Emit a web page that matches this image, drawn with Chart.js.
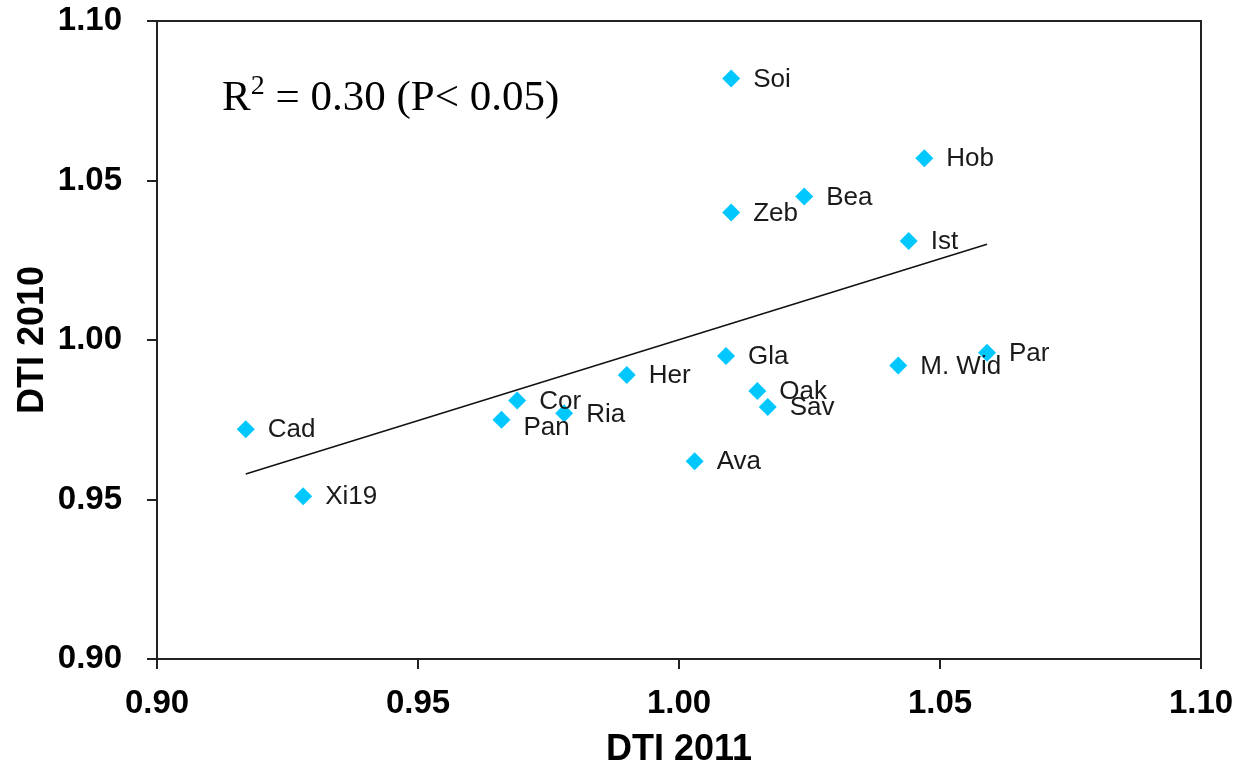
<!DOCTYPE html>
<html>
<head>
<meta charset="utf-8">
<script src="https://cdn.jsdelivr.net/npm/chart.js@4.4.1/dist/chart.umd.min.js"></script>
<style>
  html, body { margin: 0; padding: 0; background: #fff; }
</style>
</head>
<body>
<canvas id="dtiChart" width="1243" height="769"></canvas>
<script>
// site names and DTI values
const sites = ['Soi', 'Hob', 'Bea', 'Zeb', 'Ist', 'Gla', 'M. Wid', 'Par', 'Her', 'Oak',
               'Sav', 'Cor', 'Ria', 'Pan', 'Cad', 'Xi19', 'Ava'];
const dti2011 = [1.010, 1.047, 1.024, 1.010, 1.044, 1.009, 1.042, 1.059, 0.990, 1.015,
                 1.017, 0.969, 0.978, 0.966, 0.917, 0.928, 1.003];
const dti2010 = [1.082, 1.057, 1.045, 1.040, 1.031, 0.995, 0.992, 0.996, 0.989, 0.984,
                 0.979, 0.981, 0.977, 0.975, 0.972, 0.951, 0.962];

// regression line ends
const trendX = [0.917, 1.059];
const trendY = [0.958, 1.030];

const xTicks = [0.90, 0.95, 1.00, 1.05, 1.10];
const yTicks = [0.90, 0.95, 1.00, 1.05, 1.10];

const statText = ' = 0.30 (P< 0.05)';

const sans = "'Liberation Sans', Arial, sans-serif";
const serif = "'Liberation Serif', 'Times New Roman', serif";

// names next to each diamond, the R² note and the box round the plot
const extrasPlugin = {
    id: 'extras',
    afterDatasetsDraw(chart) {
        const {ctx, chartArea, scales} = chart;
        ctx.save();

        // box
        ctx.strokeStyle = '#222';
        ctx.lineWidth = 2;
        ctx.beginPath();
        ctx.moveTo(chartArea.left, chartArea.top);
        ctx.lineTo(chartArea.right, chartArea.top);
        ctx.lineTo(chartArea.right, chartArea.bottom);
        ctx.stroke();

        // labels
        ctx.font = '26px ' + sans;
        ctx.fillStyle = '#1a1a1a';
        ctx.textAlign = 'left';
        ctx.textBaseline = 'middle';
        const shift = { 'Pan': 7 };
        sites.forEach((name, i) => {
            const px = scales.x.getPixelForValue(dti2011[i]);
            const py = scales.y.getPixelForValue(dti2010[i]);
            ctx.fillText(name, px + 22, py + 1 + (shift[name] || 0));
        });

        // R² = ...
        const tx = 222, ty = 110;
        ctx.fillStyle = '#000';
        ctx.textBaseline = 'alphabetic';
        ctx.font = '43px ' + serif;
        ctx.fillText('R', tx, ty);
        let w = ctx.measureText('R').width;
        ctx.font = '28px ' + serif;
        ctx.fillText('2', tx + w, ty - 16);
        w += ctx.measureText('2').width;
        ctx.font = '43px ' + serif;
        ctx.fillText(statText, tx + w, ty);

        ctx.restore();
    }
};

const ctx = document.getElementById('dtiChart').getContext('2d');

const dtiChart = new Chart(ctx, {
    type: 'scatter',
    data: {
        datasets: [{
            label: 'sites',
            data: dti2011.map((v, i) => ({ x: v, y: dti2010[i] })),
            pointStyle: 'rectRot',
            pointRadius: 9,
            pointHoverRadius: 9,
            backgroundColor: 'rgb(0, 200, 255)',
            borderColor: 'rgb(0, 200, 255)',
            borderWidth: 0
        }, {
            label: 'trend',
            type: 'line',
            data: trendX.map((v, i) => ({ x: v, y: trendY[i] })),
            borderColor: '#111',
            borderWidth: 1.5,
            pointRadius: 0,
            fill: false
        }]
    },
    options: {
        responsive: false,
        devicePixelRatio: 1,
        animation: false,
        layout: { padding: { top: 21, right: 42, left: 0, bottom: 0 } },
        plugins: {
            legend: { display: false },
            tooltip: { enabled: false }
        },
        scales: {
            x: {
                type: 'linear',
                min: 0.90,
                max: 1.10,
                afterBuildTicks: (scale) => { scale.ticks = xTicks.map(v => ({ value: v })); },
                afterFit: (scale) => {
                    scale.height = 110;
                    scale.paddingLeft = 0;
                    scale.paddingRight = 0;
                },
                grid: { drawOnChartArea: false, drawTicks: true, tickLength: 10, color: '#222', lineWidth: 2 },
                border: { display: true, color: '#222', width: 2 },
                ticks: {
                    padding: 15,
                    color: '#000',
                    font: { family: sans, size: 33, weight: 'bold' },
                    callback: (v) => Number(v).toFixed(2)
                },
                title: {
                    display: true,
                    text: 'DTI 2011',
                    color: '#000',
                    font: { family: sans, size: 36, weight: 'bold', lineHeight: 1.05 },
                    padding: { top: 0, bottom: 0 }
                }
            },
            y: {
                type: 'linear',
                min: 0.90,
                max: 1.10,
                afterBuildTicks: (scale) => { scale.ticks = yTicks.map(v => ({ value: v })); },
                afterFit: (scale) => {
                    scale.width = 157;
                    scale.paddingTop = 0;
                    scale.paddingBottom = 0;
                },
                grid: { drawOnChartArea: false, drawTicks: true, tickLength: 10, color: '#222', lineWidth: 2 },
                border: { display: true, color: '#222', width: 2 },
                ticks: {
                    padding: 25,
                    color: '#000',
                    font: { family: sans, size: 33, weight: 'bold' },
                    callback: (v) => Number(v).toFixed(2)
                },
                title: {
                    display: true,
                    text: 'DTI 2010',
                    color: '#000',
                    font: { family: sans, size: 36, weight: 'bold' },
                    padding: { top: 11, bottom: 0 }
                }
            }
        }
    },
    plugins: [extrasPlugin]
});
</script>
</body>
</html>
